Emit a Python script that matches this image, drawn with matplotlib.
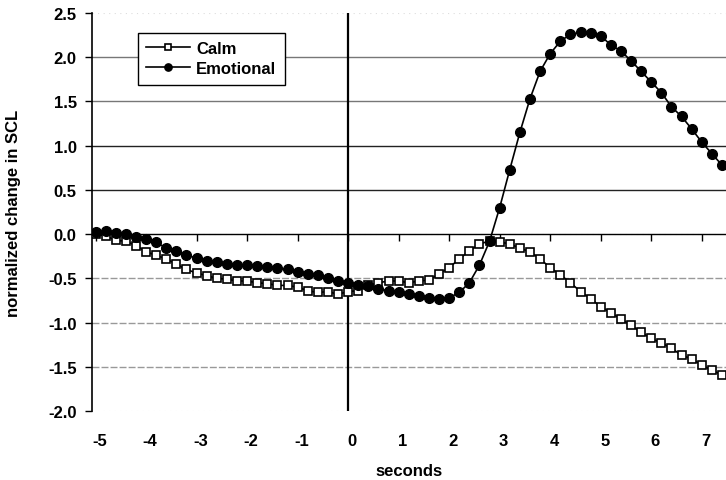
import matplotlib
matplotlib.use("Agg")
import matplotlib.pyplot as plt
import matplotlib.transforms as mtransforms
import numpy as np

plt.rcParams['font.family'] = ['Liberation Sans', 'DejaVu Sans']
plt.rcParams['font.weight'] = 'bold'
plt.rcParams['font.size'] = 12

# time axis, one sample every 0.2 s
seconds = np.round(np.arange(-5.0, 7.41, 0.2), 1)

calm = [0.00, -0.02, -0.07, -0.08, -0.13, -0.20, -0.24, -0.28, -0.34, -0.40,
        -0.44, -0.47, -0.50, -0.51, -0.53, -0.53, -0.55, -0.56, -0.58, -0.58,
        -0.60, -0.64, -0.66, -0.65, -0.68, -0.65, -0.64, -0.58, -0.55, -0.53,
        -0.53, -0.55, -0.53, -0.52, -0.45, -0.38, -0.28, -0.19, -0.11, -0.08,
        -0.09, -0.11, -0.16, -0.20, -0.28, -0.38, -0.46, -0.55, -0.65, -0.73,
        -0.82, -0.89, -0.96, -1.03, -1.11, -1.18, -1.23, -1.29, -1.37, -1.41,
        -1.48, -1.54, -1.59]

emotional = [0.02, 0.03, 0.01, 0.00, -0.03, -0.06, -0.09, -0.16, -0.19, -0.24,
             -0.27, -0.30, -0.32, -0.34, -0.35, -0.35, -0.36, -0.37, -0.38, -0.40,
             -0.43, -0.45, -0.46, -0.50, -0.53, -0.55, -0.57, -0.59, -0.62, -0.64,
             -0.66, -0.68, -0.70, -0.72, -0.73, -0.72, -0.66, -0.55, -0.35, -0.08,
             0.30, 0.73, 1.15, 1.53, 1.84, 2.04, 2.18, 2.26, 2.28, 2.27,
             2.24, 2.14, 2.07, 1.96, 1.84, 1.72, 1.60, 1.44, 1.33, 1.19,
             1.04, 0.91, 0.78]

x_ticks = list(range(-5, 8))
y_ticks = np.arange(-2.0, 2.51, 0.5)

W, H = 726, 481
fig = plt.figure(figsize=(W / 100, H / 100), dpi=100)
ax = fig.add_axes([92 / W, 69 / H, 634 / W, 398 / H])

ax.plot(seconds, calm, color='black', lw=1.2, marker='s', ms=6.4,
        mfc='white', mec='black', mew=1.2, label='Calm', zorder=3)
ax.plot(seconds, emotional, color='black', lw=1.2, marker='o', ms=7,
        mfc='black', mec='black', label='Emotional', zorder=4)

ax.set_xlim(-5.07, 7.48)
ax.set_ylim(-2.0, 2.5)

# vertical line at stimulus onset
ax.axvline(0, color='black', lw=1.6, zorder=2)

# y axis
ax.set_yticks(y_ticks)
ax.set_yticklabels([f"{v:.1f}" for v in y_ticks])
ax.tick_params(axis='y', direction='out', length=5, width=1, pad=6)
ax.spines['left'].set_linewidth(1.2)
ax.spines['top'].set_visible(False)
ax.spines['right'].set_visible(False)

# horizontal grid
ax.grid(axis='y', zorder=0)
for line, v in zip(ax.get_ygridlines(), y_ticks):
    if v in (0.5, 1.0):
        line.set(color='#222222', lw=1.0, ls='-')
    elif v in (1.5, 2.0):
        line.set(color='#777777', lw=1.0, ls='-')
    elif v in (-0.5, -1.0, -1.5):
        line.set(color='#999999', lw=1.0, ls=(0, (5, 1.5)))
    else:
        line.set(color='#dddddd', lw=0.8, ls=(0, (1, 4)))

# x axis line with ticks sits at y=0, labels at the bottom
ax.spines['bottom'].set_position(('data', 0))
ax.spines['bottom'].set_linewidth(1.0)
ax.set_xticks(x_ticks)
ax.tick_params(axis='x', direction='out', length=5, width=1, labelbottom=False)

sec = ax.secondary_xaxis('bottom')
sec.set_xticks(x_ticks)
sec.set_xticklabels([str(t) for t in x_ticks])
sec.tick_params(axis='x', length=0, pad=16)
sec.spines['bottom'].set_visible(False)
shift = mtransforms.ScaledTranslation(4 / 100, 0, fig.dpi_scale_trans)
for lab in sec.get_xticklabels():
    lab.set_transform(lab.get_transform() + shift)

fig.text(409 / W, 1 - 472 / H, 'seconds', ha='center', va='center',
         fontweight='bold')
ax.set_ylabel('normalized change in SCL', fontweight='bold')
ax.yaxis.set_label_coords(-0.112, 0.5)

leg = ax.legend(loc='upper left', bbox_to_anchor=(0.0726, 0.95), borderaxespad=0,
                frameon=True, fancybox=False, framealpha=1, edgecolor='black',
                handlelength=2.6, markerscale=0.75, handletextpad=0.4,
                borderpad=0.5, labelspacing=0.3)
leg.get_frame().set_linewidth(1.0)

fig.savefig('out.png', dpi=100)
